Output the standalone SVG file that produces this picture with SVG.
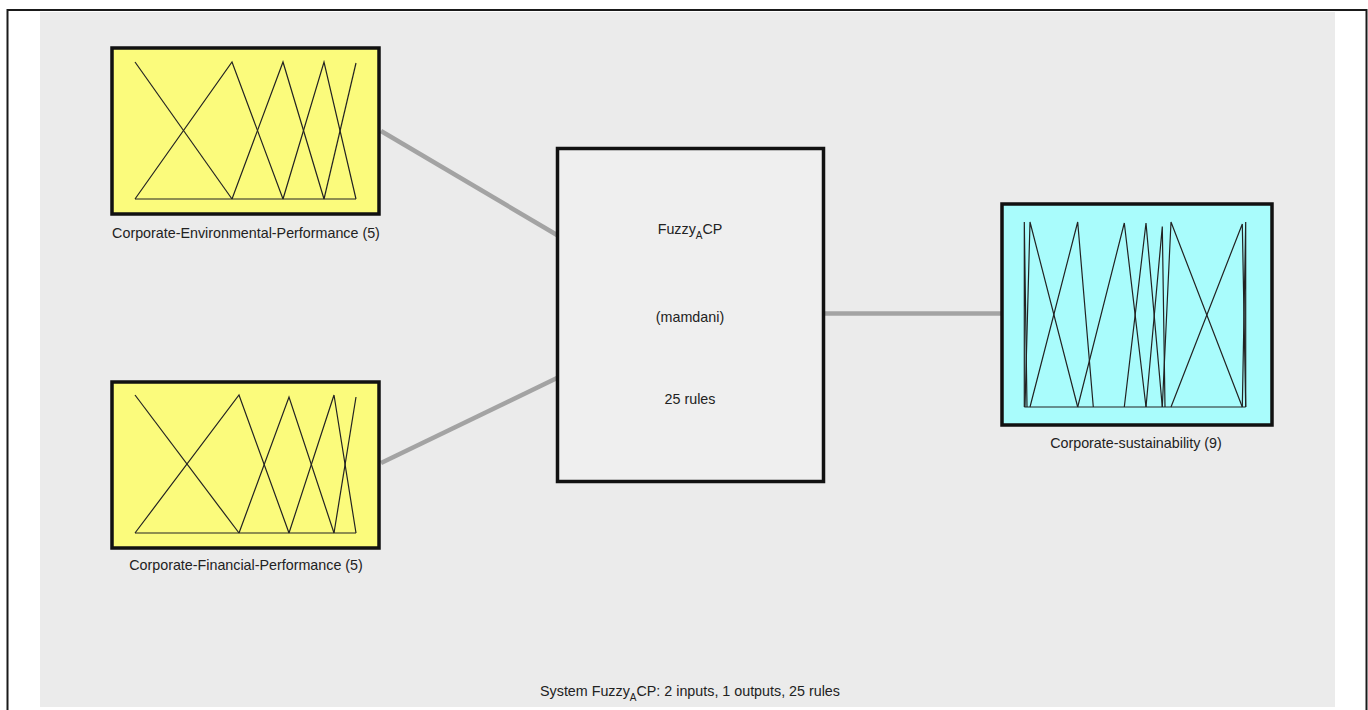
<svg xmlns="http://www.w3.org/2000/svg" width="1368" height="710" viewBox="0 0 1368 710">
<style>
text{font-family:"Liberation Sans",Arial,sans-serif;font-size:14.3px;fill:#222;text-anchor:middle}
.sub{font-size:10px}
.box{stroke:#111;stroke-width:3.5}
.in{fill:#fbfb7c}
.out{fill:#a9fcfc}
.sys{fill:#efefef}
.mf{fill:none;stroke:#222;stroke-width:1.2;stroke-linejoin:miter}
.conn{stroke:#a3a3a3;stroke-width:4.5;fill:none}
</style>
<rect x="0" y="0" width="1368" height="710" fill="#fff"/>
<rect x="40" y="12" width="1295" height="695" fill="#ebebeb"/>
<rect x="7.5" y="10" width="1359" height="730" fill="none" stroke="#1a1a1a" stroke-width="2"/>
<g id="connectors">
<line class="conn" x1="381" y1="131" x2="557" y2="235"/>
<line class="conn" x1="381" y1="463" x2="557" y2="378"/>
<line class="conn" x1="825" y1="313.5" x2="1001" y2="313.5"/>
</g>
<g id="input1">
<rect class="box in" x="112" y="48" width="267" height="166"/>
<polyline class="mf" points="135,62 232,199"/>
<polyline class="mf" points="135,199 232,62 283,199"/>
<polyline class="mf" points="232,199 283,62 324,199"/>
<polyline class="mf" points="283,199 324,62 356,199"/>
<polyline class="mf" points="324,199 356,63"/>
<line class="mf" x1="135" y1="199" x2="356" y2="199"/>
<text x="246" y="238">Corporate-Environmental-Performance (5)</text>
</g>
<g id="input2">
<rect class="box in" x="112" y="382" width="267" height="166"/>
<polyline class="mf" points="135,395 239,533"/>
<polyline class="mf" points="135,533 239,395 289,533"/>
<polyline class="mf" points="239,533 289,397 334,533"/>
<polyline class="mf" points="289,533 334,395 356,533"/>
<polyline class="mf" points="334,533 356,397"/>
<line class="mf" x1="135" y1="533" x2="356" y2="533"/>
<text x="246" y="570">Corporate-Financial-Performance (5)</text>
</g>
<g id="system">
<rect class="box sys" x="557.5" y="148.5" width="266" height="333"/>
<text x="690" y="234">Fuzzy<tspan class="sub" dy="5">A</tspan><tspan dy="-5">CP</tspan></text>
<text x="690" y="322">(mamdani)</text>
<text x="690" y="404">25 rules</text>
</g>
<g id="output">
<rect class="box out" x="1002" y="204" width="270" height="221"/>
<polyline class="mf" points="1024.3,407 1024.3,222 1027,407"/>
<polyline class="mf" points="1025,407 1030,222 1077.7,407"/>
<polyline class="mf" points="1030,407 1077.7,222 1093.3,407"/>
<polyline class="mf" points="1077.7,407 1124.3,223 1146,407"/>
<polyline class="mf" points="1124.3,407 1146,223 1162.3,407"/>
<polyline class="mf" points="1146,407 1162.3,226.5 1165,407"/>
<polyline class="mf" points="1162.3,407 1171,222 1242.3,407"/>
<polyline class="mf" points="1171,407 1242.3,224 1245.7,407"/>
<polyline class="mf" points="1242.3,407 1245.7,222 1245.7,407"/>
<line class="mf" x1="1024.3" y1="407" x2="1245.7" y2="407"/>
<text x="1136" y="448">Corporate-sustainability (9)</text>
</g>
<text x="690" y="696">System Fuzzy<tspan class="sub" dy="5">A</tspan><tspan dy="-5">CP: 2 inputs, 1 outputs, 25 rules</tspan></text>
</svg>
